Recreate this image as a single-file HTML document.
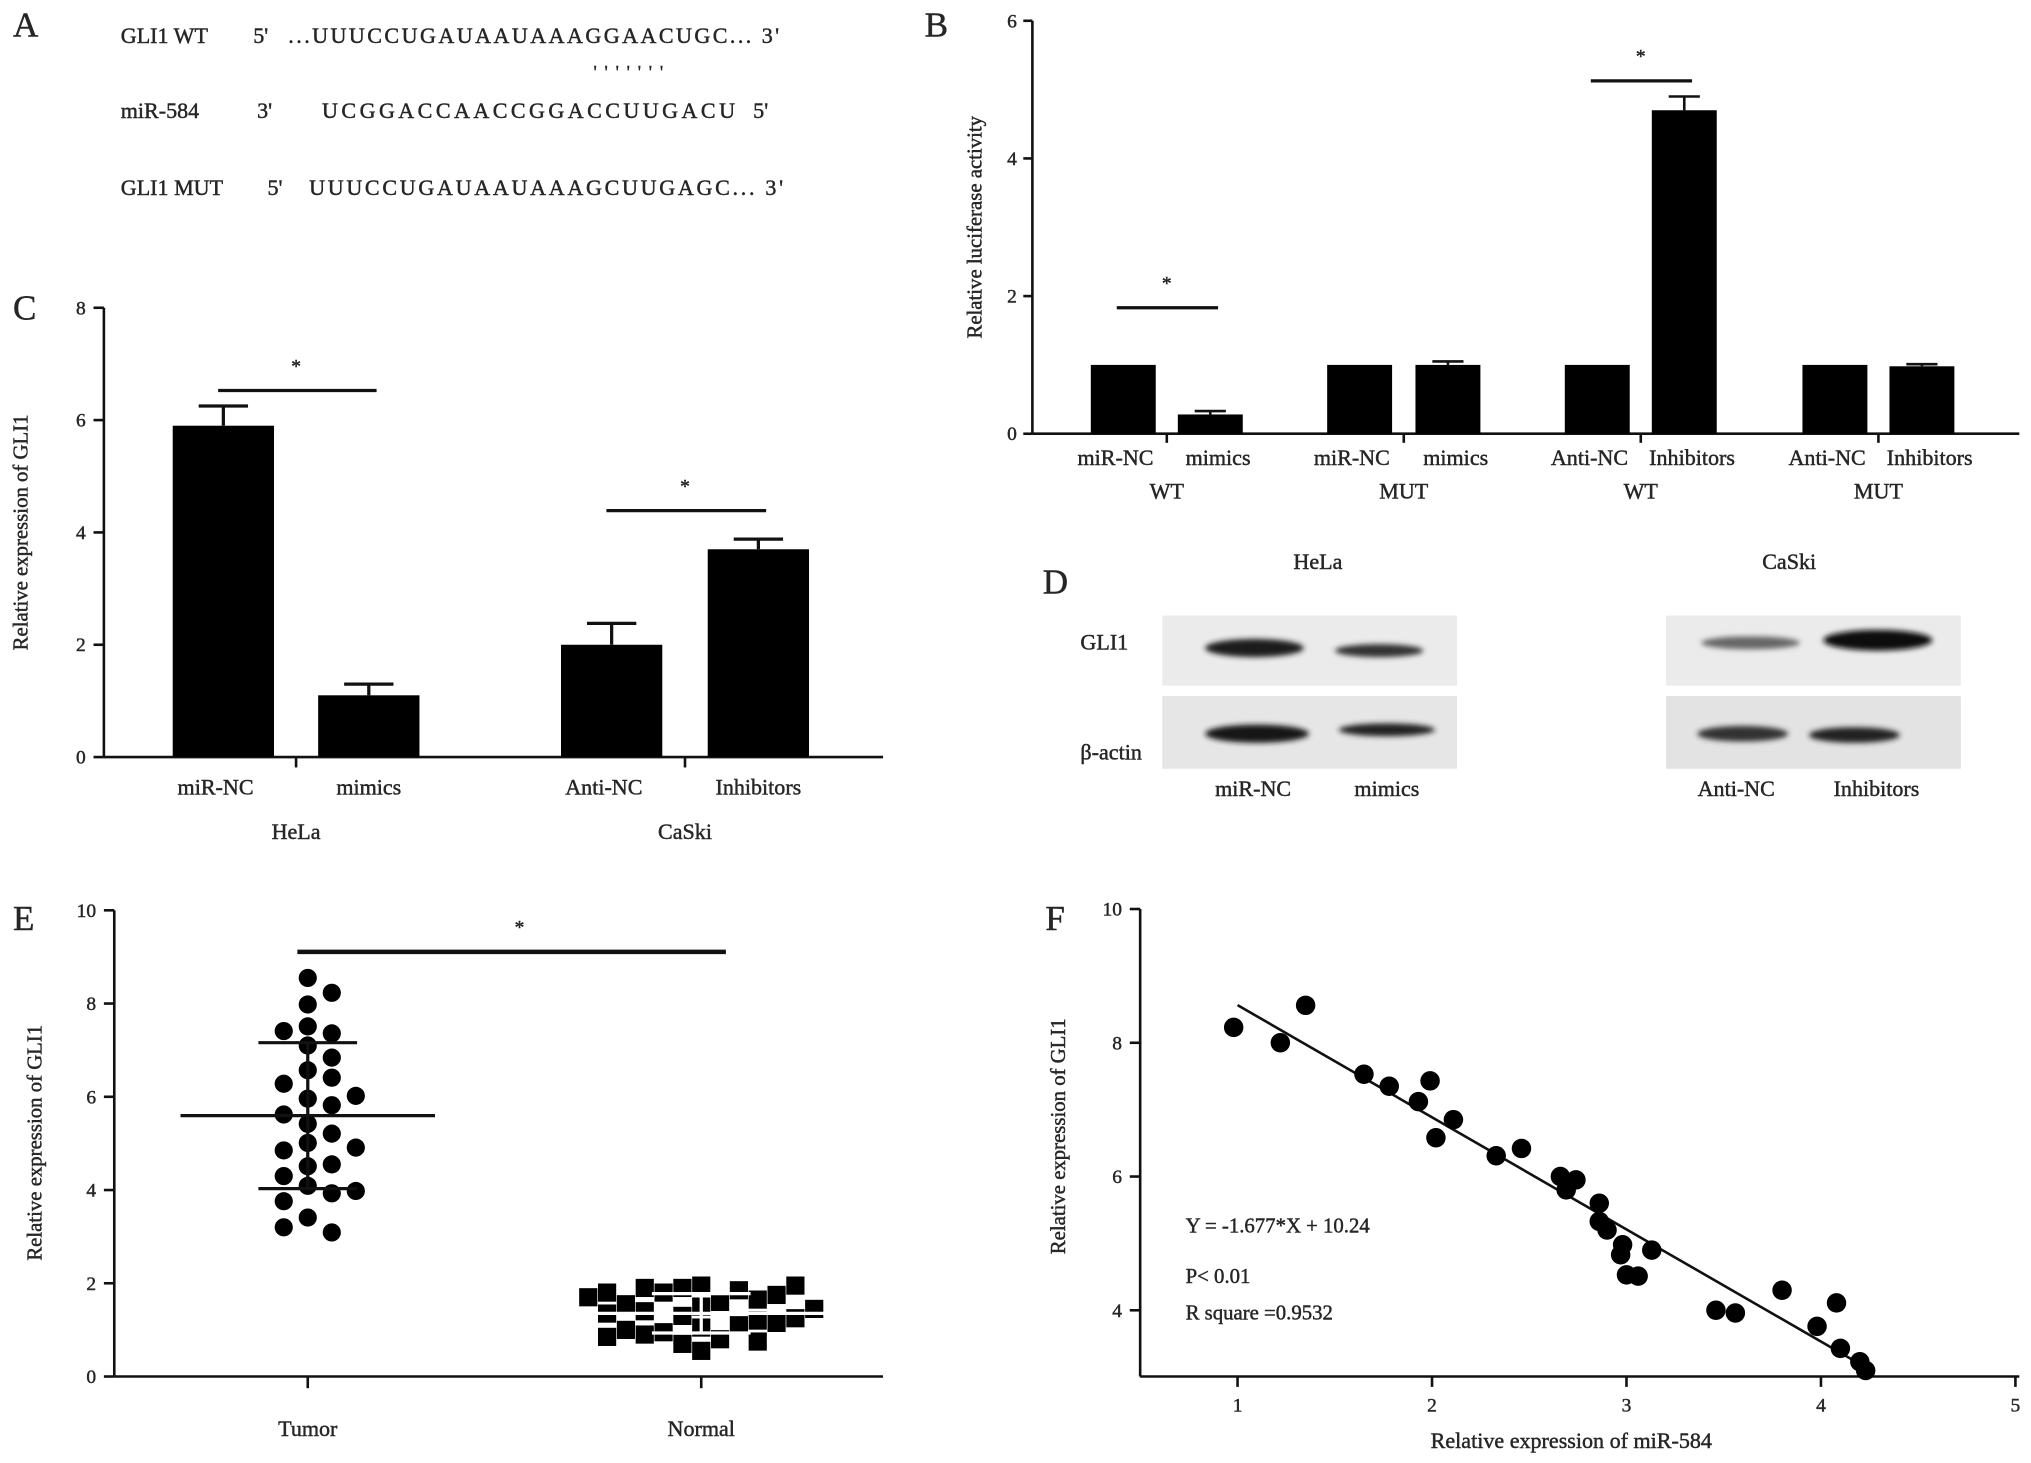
<!DOCTYPE html>
<html><head><meta charset="utf-8">
<style>
html,body{margin:0;padding:0;background:#fff;}
svg{display:block;}
text{font-family:"Liberation Serif",serif;fill:#262626;stroke:#262626;stroke-width:0.35px;}
</style></head>
<body>
<svg id="fig" width="2031" height="1463" viewBox="0 0 1564 1126.6" xmlns="http://www.w3.org/2000/svg">
<g id="panelA" font-size="17">
  <text x="10" y="28" font-size="27">A</text>
  <text x="93" y="33">GLI1  WT</text>
  <text x="195" y="33">5'</text>
  <text x="222" y="33" textLength="378">...UUUCCUGAUAAUAAAGGAACUGC... 3'</text>
  <text x="457" y="60" font-size="14" letter-spacing="6">'''''''</text>
  <text x="93" y="91">miR-584</text>
  <text x="198" y="91">3'</text>
  <text x="248" y="91" textLength="318">UCGGACCAACCGGACCUUGACU</text>
  <text x="580" y="91">5'</text>
  <text x="93" y="150">GLI1  MUT</text>
  <text x="206" y="150">5'</text>
  <text x="238" y="150" textLength="365">UUUCCUGAUAAUAAAGCUUGAGC... 3'</text>
</g>
<g id="panelB"></g>
<g id="panelC"></g>
<g id="panelD">
  <text x="803" y="457" font-size="27">D</text>
  <text x="996" y="438" font-size="17">HeLa</text>
  <text x="1357" y="438" font-size="17">CaSki</text>
  <text x="832" y="500" font-size="17">GLI1</text>
  <text x="832" y="585" font-size="17">β-actin</text>
  <defs><filter id="blur" x="-20%" y="-50%" width="140%" height="200%"><feGaussianBlur stdDeviation="2"/></filter></defs>
  <rect x="895" y="474" width="227" height="54" fill="#ebebeb"/>
  <rect x="895" y="536" width="227" height="56" fill="#e6e6e6"/>
  <rect x="1283" y="474" width="227" height="54" fill="#ebebeb"/>
  <rect x="1283" y="536" width="227" height="56" fill="#e3e3e3"/>
  <g filter="url(#blur)">
    <ellipse cx="966" cy="499" rx="38" ry="7" fill="#1a1a1a"/>
    <ellipse cx="1062" cy="501" rx="34" ry="5" fill="#333"/>
    <ellipse cx="968" cy="565" rx="40" ry="7" fill="#151515"/>
    <ellipse cx="1068" cy="562" rx="37" ry="5" fill="#222"/>
    <ellipse cx="1348" cy="495" rx="38" ry="5" fill="#666"/>
    <ellipse cx="1446" cy="493" rx="42" ry="8" fill="#111"/>
    <ellipse cx="1342" cy="565" rx="35" ry="6" fill="#333"/>
    <ellipse cx="1428" cy="566" rx="35" ry="6" fill="#222"/>
  </g>
  <text x="965" y="613" font-size="17" text-anchor="middle">miR-NC</text>
  <text x="1068" y="613" font-size="17" text-anchor="middle">mimics</text>
  <text x="1337" y="613" font-size="17" text-anchor="middle">Anti-NC</text>
  <text x="1445" y="613" font-size="17" text-anchor="middle">Inhibitors</text>
</g>
<g id="panelE"></g>
<g id="panelF"></g>
</svg>
<script>
// ---- Panel B data ----
const bCategories = ["miR-NC","mimics","miR-NC","mimics","Anti-NC","Inhibitors","Anti-NC","Inhibitors"];
const bGroups = ["WT","MUT","WT","MUT"];
const bValues = [1.0,0.28,1.0,1.0,1.0,4.7,1.0,0.98];
const bErrors = [0.0,0.05,0.0,0.05,0.0,0.2,0.0,0.03];
const bTicks = [0,2,4,6];
// ---- Panel C data ----
const cCategories = ["miR-NC","mimics","Anti-NC","Inhibitors"];
const cGroups = ["HeLa","CaSki"];
const cValues = [5.9,1.1,2.0,3.7];
const cErrors = [0.35,0.2,0.38,0.18];
const cTicks = [0,2,4,6,8];
// ---- Panel E data ----
const eCategories = ["Tumor","Normal"];
const eTumor = [8.55,8.23,7.98,7.51,7.36,7.41,7.10,6.84,6.57,6.41,6.28,5.96,5.82,6.02,5.62,5.42,5.21,5.01,4.85,4.91,4.51,4.55,4.30,4.09,3.93,3.98,3.76,3.41,3.09,3.20];
const eNormal = [1.95,1.05,1.6,0.8,1.9,1.3,0.55,1.85,1.1,1.5,0.95,1.8,1.2,1.65,0.7,1.9,1.4,0.9,1.75,1.15,1.55,1.0,1.95,1.25,0.85,1.8,1.45,0.75,1.7,1.35];
const eTicks = [0,2,4,6,8,10];
// ---- Panel F data ----
const fX = [0.98,1.22,1.35,1.65,1.78,1.99,1.93,2.11,2.02,2.33,2.46,2.66,2.74,2.69,2.86,2.86,2.9,2.98,2.97,3.13,3.0,3.06,3.46,3.56,3.8,3.98,4.08,4.1,4.2,4.23];
const fY = [8.23,8.0,8.56,7.53,7.35,7.43,7.12,6.85,6.58,6.31,6.42,6.0,5.95,5.8,5.6,5.33,5.2,4.98,4.83,4.9,4.53,4.51,4.0,3.96,4.3,3.76,4.11,3.43,3.23,3.1];
const fSlope = -1.677;
const fIntercept = 10.24;
const fXTicks = [1,2,3,4,5];
const fYTicks = [4,6,8,10];

const NS="http://www.w3.org/2000/svg";
function mk(parent,tag,attrs,txt){const e=document.createElementNS(NS,tag);for(const k in attrs)e.setAttribute(k,attrs[k]);if(txt!==undefined)e.textContent=txt;parent.appendChild(e);return e;}
function line(p,x1,y1,x2,y2,w){return mk(p,'line',{x1:x1,y1:y1,x2:x2,y2:y2,stroke:'#111','stroke-width':w||2});}

// ---------- Panel B ----------
(function(){
  const g=document.getElementById('panelB');
  const y0=334,y6=16,ax=795,axEnd=1555;
  const sy=v=>y0-(v/6)*(y0-y6);
  const barX=[840,907,1022,1090,1205,1272,1388,1455], bw=50;
  let t=mk(g,'text',{x:712,y:28,'font-size':27});
  t.textContent='B';
  let a=line(g,ax,y6,ax,y0,2);
  let xa=line(g,ax,y0,axEnd,y0,2);
  bTicks.forEach(v=>{line(g,ax-7,sy(v),ax,sy(v),2);
    const tl=mk(g,'text',{x:ax-12,y:sy(v)+5,'font-size':15,'text-anchor':'end'},String(v));
    });
  const yt=mk(g,'text',{x:0,y:0,'font-size':16,'text-anchor':'middle',transform:'translate(756,175) rotate(-90)'},'Relative luciferase activity');
  
  bValues.forEach((v,i)=>{
    const x=barX[i];
    const r=mk(g,'rect',{x:x,y:sy(v),width:bw,height:y0-sy(v),fill:'#000'});
    
    const e=bErrors[i];
    if(e>0){line(g,x+bw/2,sy(v),x+bw/2,sy(v+e),2);line(g,x+bw/2-12,sy(v+e),x+bw/2+12,sy(v+e),2);}
    const l=mk(g,'text',{x:x+bw/2+(i%2?6:-6),y:358,'font-size':17,'text-anchor':'middle'},bCategories[i]);
    
  });
  bGroups.forEach((gname,k)=>{
    const cx=(barX[2*k]+barX[2*k+1]+bw)/2;
    line(g,cx,y0,cx,y0+7,2);
    const l=mk(g,'text',{x:cx,y:384,'font-size':17,'text-anchor':'middle'},gname);
    
  });
  [[0,1],[4,5]].forEach(([i,j])=>{
    const top=Math.max(bValues[i]+bErrors[i],bValues[j]+bErrors[j]);
    const yy=sy(top)-(i===0?44:12);
    const s=line(g,barX[i]+20,yy,barX[j]+31,yy,2.5);
    const st=mk(g,'text',{x:(barX[i]+barX[j]+bw)/2,y:yy-14,'font-size':15,'text-anchor':'middle'},'*');
    
  });
})();

// ---------- Panel C ----------
(function(){
  const g=document.getElementById('panelC');
  const y0=583,y8=237,ax=80,axEnd=680;
  const sy=v=>y0-(v/8)*(y0-y8);
  const barX=[133,245,432,545], bw=78;
  let t=mk(g,'text',{x:10,y:246,'font-size':27},'C');
  
  let a=line(g,ax,y8,ax,y0,2);
  let xa=line(g,ax,y0,axEnd,y0,2);
  cTicks.forEach(v=>{line(g,ax-8,sy(v),ax,sy(v),2);
    const tl=mk(g,'text',{x:ax-14,y:sy(v)+5,'font-size':15,'text-anchor':'end'},String(v));
    });
  const yt=mk(g,'text',{x:0,y:0,'font-size':16,'text-anchor':'middle',transform:'translate(21,410) rotate(-90)'},'Relative expression of GLI1');
  
  cValues.forEach((v,i)=>{
    const x=barX[i];
    const r=mk(g,'rect',{x:x,y:sy(v),width:bw,height:y0-sy(v),fill:'#000'});
    
    const e=cErrors[i];
    line(g,x+bw/2,sy(v),x+bw/2,sy(v+e),2.5);line(g,x+bw/2-19,sy(v+e),x+bw/2+19,sy(v+e),2.5);
    const l=mk(g,'text',{x:x+bw/2+(i%2?0:-6),y:612,'font-size':17,'text-anchor':'middle'},cCategories[i]);
    
  });
  cGroups.forEach((gname,k)=>{
    const cx=(barX[2*k]+barX[2*k+1]+bw)/2;
    line(g,cx,y0,cx,y0+8,2);
    const l=mk(g,'text',{x:cx,y:646,'font-size':17,'text-anchor':'middle'},gname);
    
  });
  [[0,1,12],[2,3,22]].forEach(([i,j,off])=>{
    const top=Math.max(cValues[i]+cErrors[i],cValues[j]+cErrors[j]);
    const yy=sy(top)-off;
    const s=line(g,barX[i]+35,yy,barX[j]+45,yy,2.5);
    const st=mk(g,'text',{x:(barX[i]+barX[j]+bw)/2,y:yy-14,'font-size':15,'text-anchor':'middle'},'*');
    
  });
})();

// ---------- Panel E ----------
(function(){
  const g=document.getElementById('panelE');
  const y0=1060,y10=701,ax=88,axEnd=680;
  const sy=v=>y0-(v/10)*(y0-y10);
  const catX=[237,540];
  let t=mk(g,'text',{x:10,y:716,'font-size':27},'E');
  
  let a=line(g,ax,y10,ax,y0,2);
  let xa=line(g,ax,y0,axEnd,y0,2);
  eTicks.forEach(v=>{line(g,ax-8,sy(v),ax,sy(v),2);
    const tl=mk(g,'text',{x:ax-14,y:sy(v)+5,'font-size':15,'text-anchor':'end'},String(v));
    });
  const yt=mk(g,'text',{x:0,y:0,'font-size':16,'text-anchor':'middle',transform:'translate(32,880) rotate(-90)'},'Relative expression of GLI1');
  
  eCategories.forEach((c,i)=>{line(g,catX[i],y0,catX[i],y0+9,2);
    const l=mk(g,'text',{x:catX[i],y:1106,'font-size':17,'text-anchor':'middle'},c);
    });
  function swarm(vals,cx,step,minDy){
    const placed=[];const out=[];
    vals.forEach(v=>{const y=sy(v);let x=cx;
      const cands=[0,1,-1,2,-2,3,-3,4,-4,5,-5,6,-6,7,-7];
      for(const c of cands){x=cx+c*step;if(!placed.some(p=>Math.abs(p[0]-x)<step*0.9&&Math.abs(p[1]-y)<minDy)){break;}}
      placed.push([x,y]);out.push([x,y]);});
    return out;
  }
  function stats(vals){const m=vals.reduce((s,v)=>s+v,0)/vals.length;const sd=Math.sqrt(vals.reduce((s,v)=>s+(v-m)*(v-m),0)/(vals.length-1));return [m,sd];}
  swarm(eTumor,catX[0],18.5,13).forEach(([x,y])=>{
    const c=mk(g,'circle',{cx:x,cy:y,r:7,fill:'#000'});
    });
  swarm(eNormal,catX[1],14.5,15).forEach(([x,y])=>{
    const c=mk(g,'rect',{x:x-7,y:y-7,width:14,height:14,fill:'#000'});
    });
  [[eTumor,catX[0]],[eNormal,catX[1]]].forEach(([vals,cx])=>{
    const [m,sd]=stats(vals);
    const col=vals===eNormal?'#fff':'#111';
    const ml=mk(g,'line',{x1:cx-98,y1:sy(m),x2:cx+98,y2:sy(m),stroke:col,'stroke-width':2.5});
    
    mk(g,'line',{x1:cx,y1:sy(m-sd),x2:cx,y2:sy(m+sd),stroke:col,'stroke-width':2.5});
    mk(g,'line',{x1:cx-38,y1:sy(m+sd),x2:cx+38,y2:sy(m+sd),stroke:col,'stroke-width':2.5});
    mk(g,'line',{x1:cx-38,y1:sy(m-sd),x2:cx+38,y2:sy(m-sd),stroke:col,'stroke-width':2.5});
  });
  const s=line(g,229,733,559,733,3.5);
  const st=mk(g,'text',{x:400,y:719,'font-size':15,'text-anchor':'middle'},'*');
  
})();

// ---------- Panel F ----------
(function(){
  const g=document.getElementById('panelF');
  const ax=878,axEnd=1555,yTop=700,yBot=1060;
  const sx=v=>953+(v-1)*149.75;
  const sy=v=>1009-(v-4)*51.5;
  let t=mk(g,'text',{x:805,y:716,'font-size':27},'F');
  
  let a=line(g,ax,yTop,ax,yBot,2);
  let xa=line(g,ax,yBot,axEnd,yBot,2);
  fYTicks.forEach(v=>{line(g,ax-8,sy(v),ax,sy(v),2);
    const tl=mk(g,'text',{x:ax-14,y:sy(v)+5,'font-size':15,'text-anchor':'end'},String(v));
    });
  fXTicks.forEach(v=>{line(g,sx(v),yBot,sx(v),yBot+8,2);
    const tl=mk(g,'text',{x:sx(v),y:1087,'font-size':15,'text-anchor':'middle'},String(v));
    });
  const yt=mk(g,'text',{x:0,y:0,'font-size':16,'text-anchor':'middle',transform:'translate(820,875) rotate(-90)'},'Relative expression of GLI1');
  
  const xt=mk(g,'text',{x:1210,y:1115,'font-size':17,'text-anchor':'middle'},'Relative expression of miR-584');
  
  const x1=1,x2=4.2;
  const rl=mk(g,'line',{x1:sx(x1),y1:sy(fSlope*x1+fIntercept),x2:sx(x2),y2:sy(fSlope*x2+fIntercept),stroke:'#111','stroke-width':2});
  
  fX.forEach((xv,i)=>{const c=mk(g,'circle',{cx:sx(xv),cy:sy(fY[i]),r:7.5,fill:'#000'});
    });
  const e1=mk(g,'text',{x:913,y:949,'font-size':16},'Y = -1.677*X + 10.24');
  
  const e2=mk(g,'text',{x:913,y:988,'font-size':16},'P< 0.01');
  
  const e3=mk(g,'text',{x:913,y:1016,'font-size':16},'R square =0.9532');
  
})();
</script>
</body></html>
